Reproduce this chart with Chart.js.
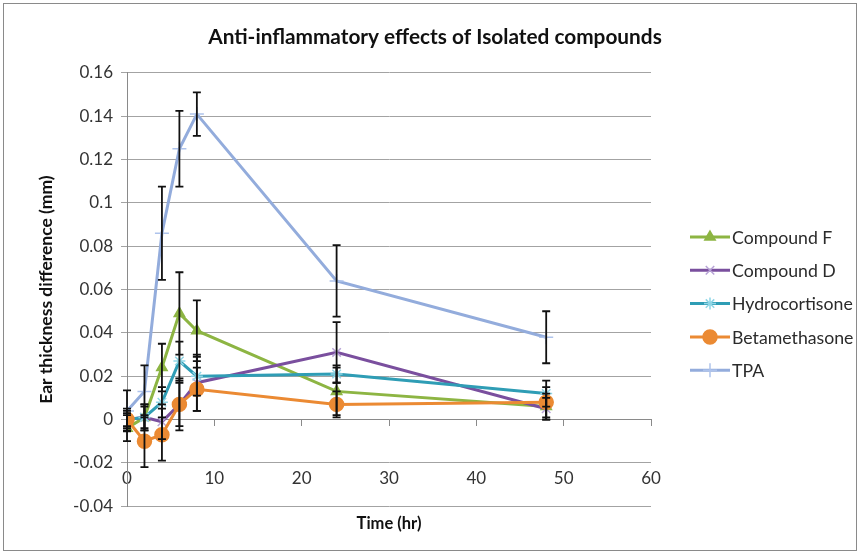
<!DOCTYPE html>
<html>
<head>
<meta charset="utf-8">
<script src="https://cdn.jsdelivr.net/npm/chart.js@4.4.1/dist/chart.umd.min.js"></script>
<style>
    html, body { margin: 0; background: #fff; }
    #wrap { width: 860px; height: 554px; position: relative; }
</style>
</head>
<body>
<div id="wrap"><canvas id="earChart"></canvas></div>
<script>
const hours = [0, 2, 4, 6, 8, 24, 48];

const compoundF = [-0.004, 0.001, 0.024, 0.049, 0.041, 0.013, 0.006];
const compoundFErr = [0.006, 0.006, 0.011, 0.019, 0.014, 0.011, 0.006];

const compoundD = [0.0, 0.001, -0.001, 0.007, 0.017, 0.031, 0.005];
const compoundDErr = [0.005, 0.006, 0.008, 0.010, 0.013, 0.014, 0.005];

const hydrocortisone = [0.0, 0.001, 0.008, 0.027, 0.020, 0.021, 0.012];
const hydrocortisoneErr = [0.004, 0.005, 0.007, 0.009, 0.009, 0.004, 0.006];

const betamethasone = [0.0, -0.010, -0.007, 0.007, 0.014, 0.007, 0.008];
const betamethasoneErr = [0.003, 0.012, 0.012, 0.012, 0.010, 0.006, 0.007];

const tpa = [0.004, 0.013, 0.086, 0.125, 0.141, 0.064, 0.038];
const tpaErr = [0.0095, 0.012, 0.0215, 0.0175, 0.010, 0.0165, 0.012];

const FONT = "Lato, 'Open Sans', sans-serif";
Chart.defaults.font.family = FONT;
Chart.defaults.color = '#333333';

const toPoints = (vals) => hours.map((h, i) => ({ x: h, y: vals[i] }));

// black error bars on top of the lines
const errorBarPlugin = {
    id: 'errorBars',
    afterDatasetsDraw(chart) {
        const ctx = chart.ctx;
        const xs = chart.scales.x, ys = chart.scales.y;
        ctx.save();
        ctx.strokeStyle = '#111111';
        ctx.lineWidth = 1.8;
        chart.data.datasets.forEach((ds) => {
            ds.data.forEach((p, i) => {
                const e = ds.errors[i];
                const x = xs.getPixelForValue(p.x);
                const yTop = ys.getPixelForValue(p.y + e);
                const yBot = ys.getPixelForValue(p.y - e);
                ctx.beginPath();
                ctx.moveTo(x, yTop); ctx.lineTo(x, yBot);
                ctx.moveTo(x - 4, yTop); ctx.lineTo(x + 4, yTop);
                ctx.moveTo(x - 4, yBot); ctx.lineTo(x + 4, yBot);
                ctx.stroke();
            });
        });
        ctx.restore();
    }
};

// legend on the right: short line with the marker in the middle
const sideLegendPlugin = {
    id: 'sideLegend',
    afterDraw(chart) {
        const ctx = chart.ctx;
        const x0 = 690, lineLen = 40, top = 237, gap = 33.3;
        ctx.save();
        chart.data.datasets.forEach((ds, i) => {
            const y = top + i * gap;
            ctx.strokeStyle = ds.borderColor;
            ctx.lineWidth = ds.borderWidth;
            ctx.beginPath();
            ctx.moveTo(x0, y); ctx.lineTo(x0 + lineLen, y);
            ctx.stroke();
            ctx.fillStyle = ds.pointBackgroundColor;
            ctx.strokeStyle = ds.pointBorderColor;
            ctx.lineWidth = ds.pointBorderWidth;
            Chart.helpers.drawPoint(ctx, {
                pointStyle: ds.pointStyle, radius: ds.pointRadius, rotation: 0, borderWidth: ds.pointBorderWidth
            }, x0 + lineLen / 2, y);
            ctx.fillStyle = '#2b2b2b';
            ctx.font = '17.7px ' + FONT;
            ctx.textBaseline = 'middle';
            ctx.textAlign = 'left';
            ctx.fillText(ds.label, x0 + lineLen + 2, y + 1);
        });
        ctx.restore();
    }
};

const framePlugin = {
    id: 'frame',
    afterDraw(chart) {
        const ctx = chart.ctx;
        ctx.save();
        ctx.strokeStyle = '#8a8a8a';
        ctx.lineWidth = 1;
        ctx.strokeRect(3.5, 3.5, chart.width - 7, chart.height - 7);
        ctx.restore();
    }
};

const series = (label, vals, errs, color, style, markerFill, markerBorder, radius, order) => ({
    label,
    data: toPoints(vals),
    errors: errs,
    borderColor: color,
    backgroundColor: color,
    borderWidth: 3,
    pointStyle: style,
    pointRadius: radius,
    pointBackgroundColor: markerFill,
    pointBorderColor: markerBorder,
    pointBorderWidth: 1.5,
    tension: 0,
    order
});

new Chart(document.getElementById('earChart'), {
    type: 'line',
    data: {
        datasets: [
            series('Compound F', compoundF, compoundFErr, '#8db543', 'triangle', '#8db543', '#8db543', 6, 4),
            series('Compound D', compoundD, compoundDErr, '#7a4f9e', 'crossRot', '#b7a3d6', '#b7a3d6', 6, 3),
            series('Hydrocortisone', hydrocortisone, hydrocortisoneErr, '#2f9db5', 'star', '#8fd6e6', '#8fd6e6', 6, 2),
            series('Betamethasone', betamethasone, betamethasoneErr, '#eb8a33', 'circle', '#eb8a33', '#eb8a33', 7, 1),
            series('TPA', tpa, tpaErr, '#93acdc', 'cross', '#aec3ec', '#aec3ec', 7, 0)
        ]
    },
    options: {
        responsive: true,
        maintainAspectRatio: false,
        animation: false,
        layout: { padding: { left: 10, right: 0, top: 13, bottom: 6 } },
        plugins: {
            legend: { display: false },
            tooltip: { enabled: false },
            title: {
                display: true,
                text: 'Anti-inflammatory effects of Isolated compounds',
                color: '#111111',
                font: { size: 20.8, weight: 'bold' },
                padding: { top: 12, bottom: 23 }
            },
            subtitle: {
                display: true,
                position: 'bottom',
                fullSize: false,
                text: 'Time (hr)',
                color: '#111111',
                font: { size: 16.5, weight: 'bold' },
                padding: { top: 8, bottom: 14 }
            }
        },
        scales: {
            x: {
                type: 'linear',
                position: { y: 0 },
                min: 0,
                max: 60,
                ticks: { stepSize: 10, padding: 43, font: { size: 17 }, color: '#333333' },
                grid: { drawOnChartArea: false, drawTicks: true, tickLength: 6, color: '#8a8a8a' },
                border: { display: true, color: '#8a8a8a' }
            },
            y: {
                min: -0.04,
                max: 0.16,
                ticks: {
                    stepSize: 0.02,
                    padding: 8,
                    font: { size: 17 },
                    color: '#333333',
                    callback: (v) => String(Number(v.toFixed(2)))
                },
                grid: { color: '#a3a3a3', tickLength: 6 },
                border: { display: true, color: '#8a8a8a' },
                title: {
                    display: true,
                    text: 'Ear thickness difference (mm)',
                    color: '#111111',
                    font: { size: 17.5, weight: 'bold' },
                    padding: { top: 26, bottom: 4 }
                },
                afterFit: (scale) => { scale.width = 117; }
            },
            // empty axis on the right keeps room for the legend
            yRight: {
                position: 'right',
                min: 0,
                max: 1,
                ticks: { display: false },
                grid: { display: false },
                border: { display: false },
                afterFit: (scale) => { scale.width = 209; }
            }
        }
    },
    plugins: [errorBarPlugin, sideLegendPlugin, framePlugin]
});
</script>
</body>
</html>
